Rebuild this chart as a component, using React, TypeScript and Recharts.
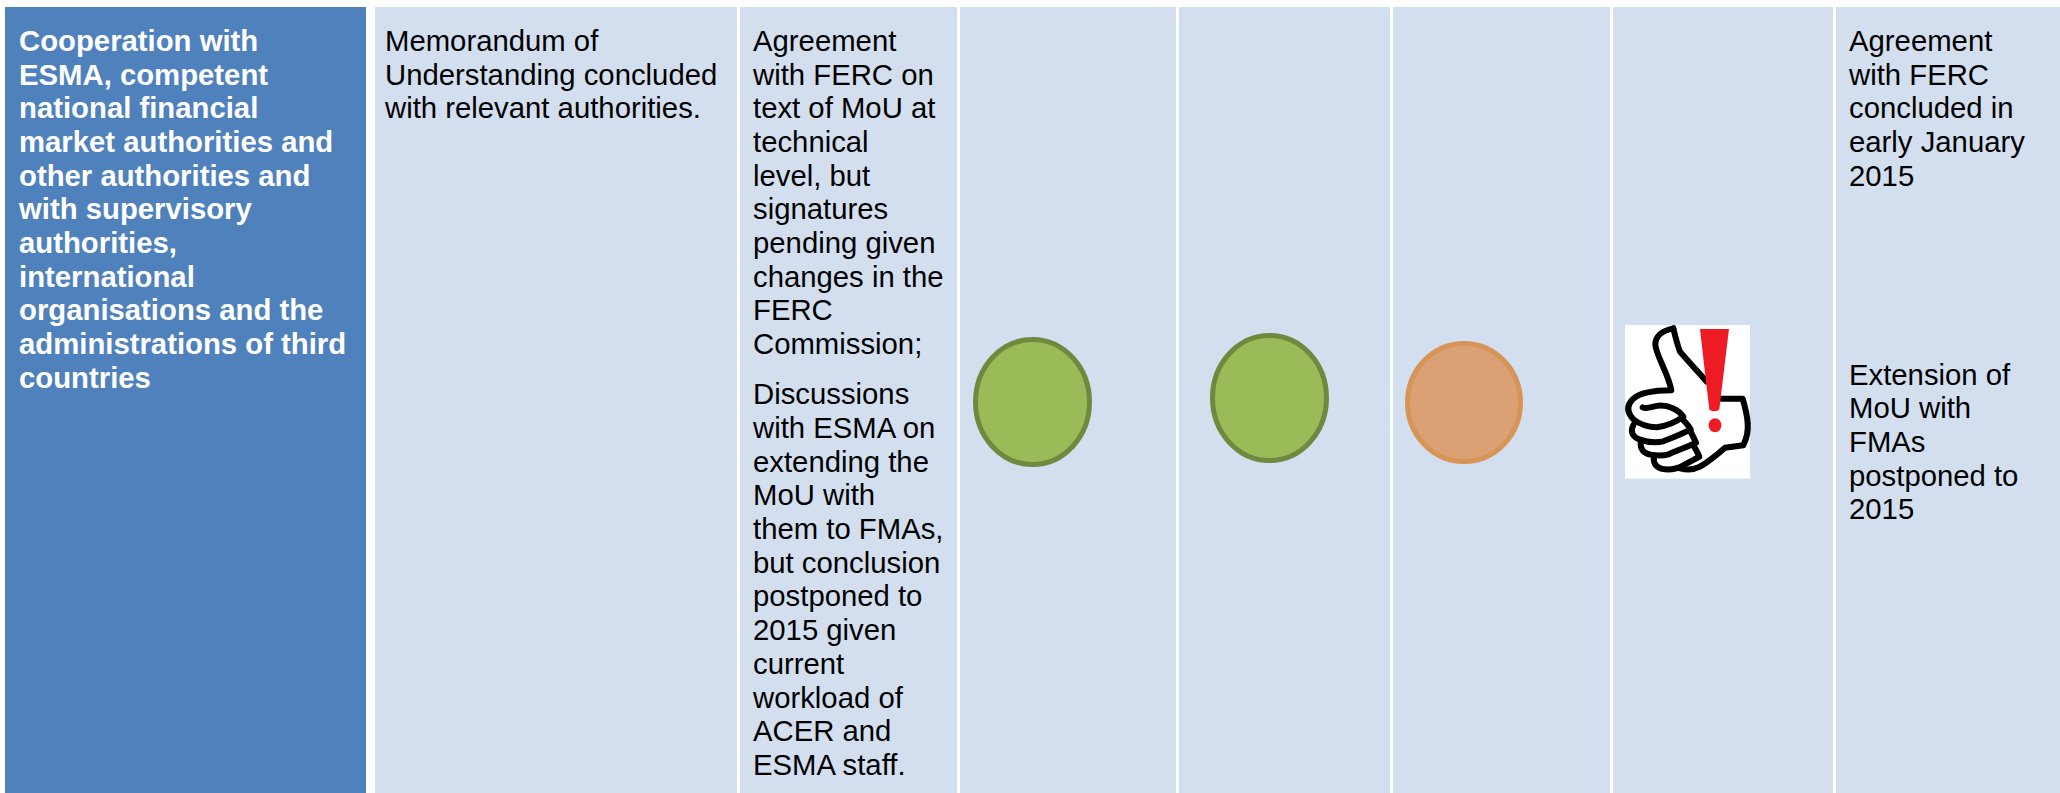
import { BarChart, Bar, XAxis, YAxis } from "recharts"

const WIDTH = 2060
const HEIGHT = 793

const columns = ["objective", "target", "progress", "q1", "q2", "q3", "q4", "comment"]
const columnWidths = [361, 362, 217, 216, 211, 217, 220, 224]
const gapWidths = [5, 9, 3, 3, 3, 3, 3, 3]
const columnFills = ["#4F81BD", "#D3DFEE", "#D3DFEE", "#D3DFEE", "#D3DFEE", "#D3DFEE", "#D3DFEE", "#D3DFEE"]

const objectiveText = [
  "Cooperation with",
  "ESMA, competent",
  "national financial",
  "market authorities and",
  "other authorities and",
  "with supervisory",
  "authorities,",
  "international",
  "organisations and the",
  "administrations of third",
  "countries",
]
const targetText = ["Memorandum of", "Understanding concluded", "with relevant authorities."]
const progressText = [
  "Agreement",
  "with FERC on",
  "text of MoU at",
  "technical",
  "level, but",
  "signatures",
  "pending given",
  "changes in the",
  "FERC",
  "Commission;",
]
const progressText2 = [
  "Discussions",
  "with ESMA on",
  "extending the",
  "MoU with",
  "them to FMAs,",
  "but conclusion",
  "postponed to",
  "2015 given",
  "current",
  "workload of",
  "ACER and",
  "ESMA staff.",
]
const commentText = ["Agreement", "with FERC", "concluded in", "early January", "2015"]
const commentText2 = ["Extension of", "MoU with", "FMAs", "postponed to", "2015"]

const row: Record<string, string | number> = { name: "cooperation" }
columns.forEach((c, i) => {
  row[`gap_${c}`] = gapWidths[i]
  row[c] = columnWidths[i]
})
const tableData = [row]

const LINE = 33.68
const FONT = "'Liberation Sans', Arial, sans-serif"

function Lines({ x, y, lines, bold, color }: any) {
  return (
    <text x={x} y={y} fontFamily={FONT} fontSize={29.3} fontWeight={bold ? 700 : 400} fill={color || "#000"}>
      {lines.map((l: string, i: number) => (
        <tspan key={i} x={x} y={y + i * LINE}>
          {l}
        </tspan>
      ))}
    </text>
  )
}

function Status({ cx, cy, rx, ry, fill, stroke }: any) {
  return <ellipse cx={cx} cy={cy} rx={rx} ry={ry} fill={fill} stroke={stroke} strokeWidth={5} />
}

// hand-drawn thumbs up icon, coordinates are the 3x zoom of the icon area
function ThumbIcon({ x, y }: any) {
  return (
    <g transform={`translate(${x},${y}) scale(0.3333)`}>
      <rect x={75} y={45} width={375} height={461} fill="#fff" />
      <g fill="none" stroke="#000" strokeWidth={18} strokeLinejoin="round" strokeLinecap="round">
        <path d="M220 55 C185 62 165 80 166 105 C170 140 205 190 214 241 C170 241 120 247 98 268 C78 288 82 308 100 328 C120 345 150 352 170 352 C200 348 230 335 250 320 C235 298 205 285 175 287 C155 290 140 298 128 292" />
        <path d="M100 345 C90 365 98 382 118 388 C140 396 170 398 190 394 C220 382 250 370 272 358 C265 345 255 335 245 325" />
        <path d="M122 398 C120 418 132 430 152 434 C170 437 190 437 206 433 C235 420 265 410 288 398 C282 385 276 372 270 362" />
        <path d="M162 440 C158 460 170 476 195 478 C215 480 235 474 250 466 C270 455 285 448 298 440 C292 425 285 415 280 405" />
        <path d="M240 475 C260 480 285 478 300 470 C325 455 350 435 375 413 L430 406 C440 385 445 360 443 340 C442 315 435 290 428 266 L365 266" />
        <path d="M220 55 C226 80 232 105 240 125 C265 155 295 185 320 215" />
      </g>
      <path d="M300 57 L387 57 L358 298 C350 306 335 306 328 298 L318 215 Z" fill="#ED1C24" />
      <ellipse cx={345} cy={346} rx={19} ry={21} fill="#ED1C24" />
    </g>
  )
}

function Cell(props: any) {
  const { x, y, width, height, fill, colIndex } = props
  const textX = x + (colIndex === 0 ? 14 : colIndex === 1 ? 10 : 13)
  const base = y + 44
  return (
    <g>
      <rect x={x} y={y} width={width} height={height} fill={fill} />
      {colIndex === 0 && <Lines x={textX} y={base} lines={objectiveText} bold color="#fff" />}
      {colIndex === 1 && <Lines x={textX} y={base} lines={targetText} />}
      {colIndex === 2 && (
        <>
          <Lines x={textX} y={base} lines={progressText} />
          <Lines x={textX} y={base + 353.4} lines={progressText2} />
        </>
      )}
      {colIndex === 3 && <Status cx={x + 72.5} cy={y + 395} rx={57} ry={62.5} fill="#9BBB59" stroke="#71893F" />}
      {colIndex === 4 && <Status cx={x + 90.5} cy={y + 391} rx={57} ry={62.5} fill="#9BBB59" stroke="#71893F" />}
      {colIndex === 5 && <Status cx={x + 71} cy={y + 395.5} rx={56.5} ry={59} fill="#D9A174" stroke="#D69457" />}
      {colIndex === 6 && <ThumbIcon x={x - 13} y={y + 303} />}
      {colIndex === 7 && (
        <>
          <Lines x={textX} y={base} lines={commentText} />
          <Lines x={textX} y={base + 333.7} lines={commentText2} />
        </>
      )}
    </g>
  )
}

export default function App() {
  return (
    <div style={{ position: "absolute", left: 0, top: 0, width: WIDTH, height: HEIGHT, background: "#fff" }}>
      <BarChart
        width={WIDTH}
        height={HEIGHT}
        data={tableData}
        layout="vertical"
        barCategoryGap={0}
        margin={{ top: 7, right: 0, bottom: 0, left: 0 }}
      >
        <XAxis type="number" domain={[0, WIDTH]} hide />
        <YAxis type="category" dataKey="name" hide />
        {columns.map((c, i) => [
          <Bar key={`gap_${c}`} dataKey={`gap_${c}`} stackId="row" fill="none" isAnimationActive={false} />,
          <Bar
            key={c}
            dataKey={c}
            stackId="row"
            fill={columnFills[i]}
            isAnimationActive={false}
            shape={(p: any) => <Cell {...p} colIndex={i} />}
          />,
        ])}
      </BarChart>
    </div>
  )
}
